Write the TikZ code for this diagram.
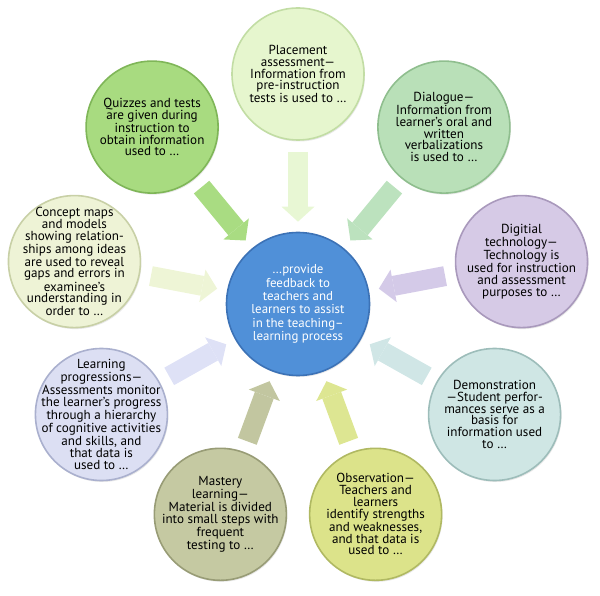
\documentclass[tikz,border=0pt]{standalone}
\usepackage{fontspec}
\setmainfont{PT Sans}
\usetikzlibrary{arrows.meta,shadows}

% fills and rims of the bubbles
\definecolor{hubfill}{HTML}{5090D8}
\definecolor{hubrim}{HTML}{3C72B6}
\definecolor{placefill}{HTML}{E6F6CE}
\definecolor{placerim}{HTML}{C2DDA4}
\definecolor{dialfill}{HTML}{B9E0B8}
\definecolor{dialrim}{HTML}{8FBE8E}
\definecolor{digifill}{HTML}{D6CAE6}
\definecolor{digirim}{HTML}{A999BC}
\definecolor{demofill}{HTML}{CFE6E4}
\definecolor{demorim}{HTML}{9DBDBA}
\definecolor{obsfill}{HTML}{DCE38A}
\definecolor{obsrim}{HTML}{B0B962}
\definecolor{mastfill}{HTML}{C5C9A2}
\definecolor{mastrim}{HTML}{989C76}
\definecolor{progfill}{HTML}{DCDFF3}
\definecolor{progrim}{HTML}{AAB0CE}
\definecolor{conceptfill}{HTML}{EEF3D6}
\definecolor{conceptrim}{HTML}{C8D0A6}
\definecolor{quizfill}{HTML}{A8DB80}
\definecolor{quizrim}{HTML}{7FB658}
% arrow colours
\definecolor{placearrow}{HTML}{E8F7D4}
\definecolor{dialarrow}{HTML}{BCE2BE}
\definecolor{digiarrow}{HTML}{D4CAE8}
\definecolor{demoarrow}{HTML}{D0E6E6}
\definecolor{obsarrow}{HTML}{DDE692}
\definecolor{mastarrow}{HTML}{C2C6A0}
\definecolor{progarrow}{HTML}{DEE1F6}
\definecolor{conceptarrow}{HTML}{EEF5D6}
\definecolor{quizarrow}{HTML}{A9DC82}

\begin{document}
\begin{tikzpicture}[x=1pt,y=1pt,
  bubble/.style={circle, minimum size=132pt, inner sep=0pt, line width=1.6pt,
    drop shadow={opacity=0.18, shadow xshift=1pt, shadow yshift=-1.5pt}},
  bubbletext/.style={align=center, inner sep=0pt, text=black,
    font=\fontsize{13.1}{11.8}\selectfont},
  hub/.style={circle, minimum size=143pt, inner sep=0pt, line width=1.6pt,
    fill=hubfill, draw=hubrim,
    drop shadow={opacity=0.18, shadow xshift=1pt, shadow yshift=-1.5pt}},
  hubtext/.style={align=center, inner sep=0pt, text=white,
    font=\fontsize{12.9}{13.3}\selectfont},
  feed/.style={line width=20pt,
    -{Triangle[length=15pt,width=33pt,line width=0pt]},
    shorten >=10pt, shorten <=11pt}
]
\useasboundingbox (0,0) rectangle (600,595);

\begin{scope}[shift={(298,294)}]
% central bubble
\node[hub] (hub) at (0,-3) {};
\node[hubtext] (hub-t) at (hub) {\dots provide\\feedback to\\teachers and\\learners to assist\\in the teaching–\\learning process};

% surrounding bubbles, every 40 degrees
\node[bubble, fill=placefill, draw=placerim] (place) at (90:227) {};
\node[bubble, fill=dialfill, draw=dialrim] (dial) at (50:227) {};
\node[bubble, fill=digifill, draw=digirim] (digi) at (10:227) {};
\node[bubble, fill=demofill, draw=demorim] (demo) at (-30:227) {};
\node[bubble, fill=obsfill, draw=obsrim] (obs) at (-70:227) {};
\node[bubble, fill=mastfill, draw=mastrim] (mast) at (-110:227) {};
\node[bubble, fill=progfill, draw=progrim] (prog) at (-150:227) {};
\node[bubble, fill=conceptfill, draw=conceptrim] (concept) at (170:227) {};
\node[bubble, fill=quizfill, draw=quizrim] (quiz) at (130:227) {};
\end{scope}

% texts of the surrounding bubbles
\node[bubbletext] (place-t) at (place)
  {Placement\\assessment—\\Information from\\pre-instruction\\tests is used to \dots};
\node[bubbletext] (dial-t) at (dial)
  {Dialogue—\\Information from\\learner’s oral and\\written\\verbalizations\\is used to \dots};
\node[bubbletext] (digi-t) at (digi)
  {Digitial\\technology—\\Technology is\\used for instruction\\and assessment\\purposes to \dots};
\node[bubbletext] (demo-t) at (demo)
  {Demonstration\\—Student perfor-\\mances serve as a\\basis for\\information used\\to \dots};
\node[bubbletext] (obs-t) at (obs)
  {Observation—\\Teachers and\\learners\\identify strengths\\and weaknesses,\\and that data is\\used to \dots};
\node[bubbletext] (mast-t) at (mast)
  {Mastery\\learning—\\Material is divided\\into small steps with\\frequent\\testing to \dots};
\node[bubbletext] (prog-t) at (prog)
  {Learning\\progressions—\\Assessments monitor\\the learner’s progress\\through a hierarchy\\of cognitive activities\\and skills, and\\that data is\\used to \dots};
\node[bubbletext] (concept-t) at (concept)
  {Concept maps\\and models\\showing relation-\\ships among ideas\\are used to reveal\\gaps and errors in\\examinee’s\\understanding in\\order to \dots};
\node[bubbletext] (quiz-t) at (quiz)
  {Quizzes and tests\\are given during\\instruction to\\obtain information\\used to \dots};

% block arrows feeding the central bubble
\draw[feed, placearrow] (place) -- (hub);
\draw[feed, dialarrow] (dial) -- (hub);
\draw[feed, digiarrow] (digi) -- (hub);
\draw[feed, demoarrow] (demo) -- (hub);
\draw[feed, obsarrow] (obs) -- (hub);
\draw[feed, mastarrow] (mast) -- (hub);
\draw[feed, progarrow] (prog) -- (hub);
\draw[feed, conceptarrow] (concept) -- (hub);
\draw[feed, quizarrow] (quiz) -- (hub);
\end{tikzpicture}
\end{document}
